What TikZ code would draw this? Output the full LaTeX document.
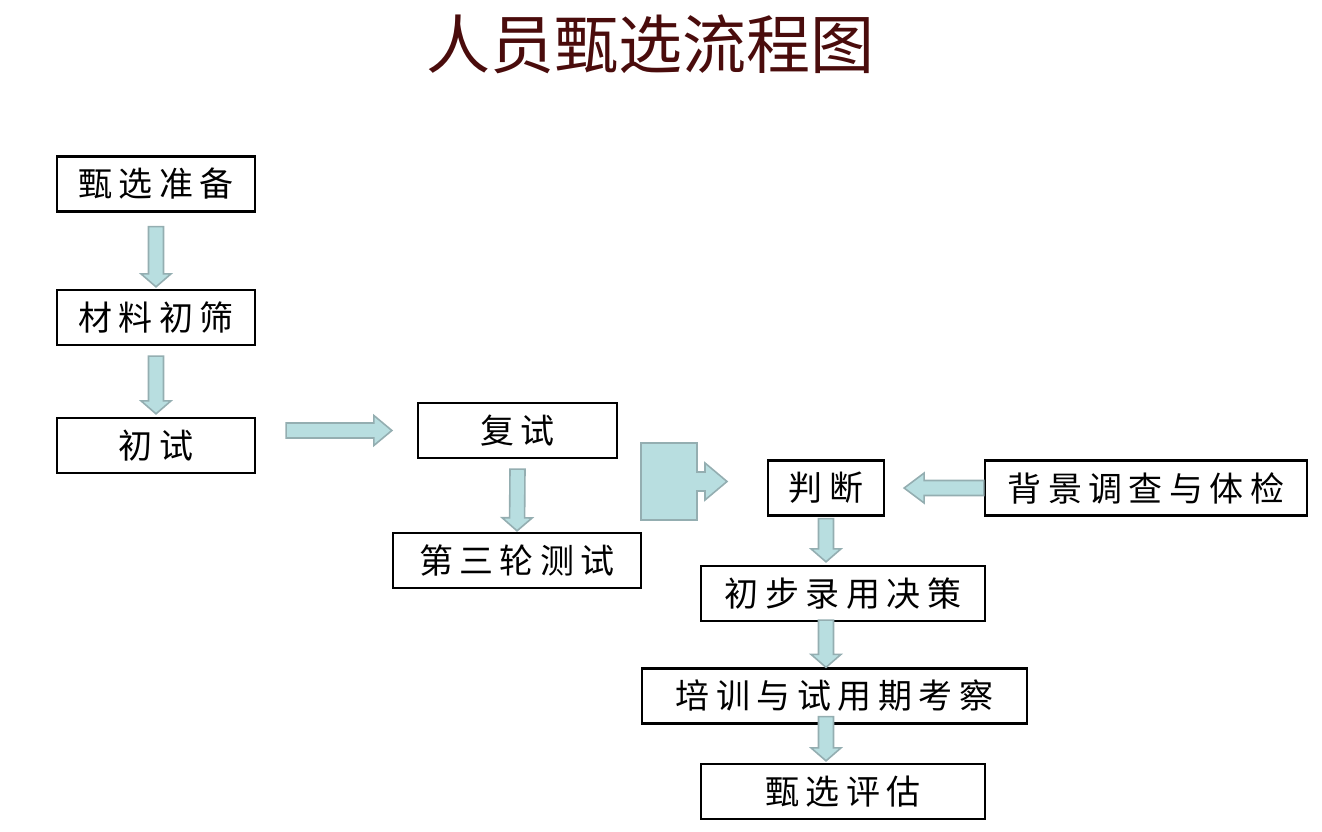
\documentclass[tikz,border=0pt]{standalone}
\usepackage{fontspec}
\usepackage{tikz}
\usetikzlibrary{calc}
\newfontfamily\cjk{Noto Sans CJK SC}
\newfontfamily\cjkbox[LetterSpace=19]{Noto Sans CJK SC}
\definecolor{arrfill}{HTML}{B8DEE0}
\definecolor{arrline}{HTML}{94AEB1}
\definecolor{titlered}{HTML}{4A0C0C}

\begin{document}
\begin{tikzpicture}[
  x=1pt, y=-1pt,
  box/.style={
    draw,
    line width=2.3pt,
    minimum height=55pt,
    inner sep=0pt,
    font=\cjkbox\fontsize{34}{38}\selectfont,
  },
  blockarr/.code={%
    \pgfmathsetmacro\shaftd{veclen(#1,7.5)}%
    \pgfmathsetmacro\shafta{atan2(7.5,#1)}%
    \pgfmathsetmacro\headd{veclen(#1,15)}%
    \pgfmathsetmacro\heada{atan2(15,#1)}%
    \tikzset{blockpath}%
  },
  blockpath/.style={
    fill=arrfill,
    draw=arrline,
    line width=1.6pt,
    to path={($(\tikztostart)!7.5pt!90:(\tikztotarget)$)
      -- ($(\tikztotarget)!\shaftd pt!-\shafta:(\tikztostart)$)
      -- ($(\tikztotarget)!\headd pt!-\heada:(\tikztostart)$)
      -- (\tikztotarget)
      -- ($(\tikztotarget)!\headd pt!\heada:(\tikztostart)$)
      -- ($(\tikztotarget)!\shaftd pt!\shafta:(\tikztostart)$)
      -- ($(\tikztostart)!7.5pt!-90:(\tikztotarget)$) -- cycle},
  },
  callout/.style={
    fill=arrfill,
    draw=arrline,
    line width=1.6pt,
  },
]
\useasboundingbox (0,0) rectangle (1322,832);

% ============================================================
% TITLE
% ============================================================
\node[font=\cjk\fontsize{64}{70}\selectfont, text=titlered]
  (title) at (650,44) {人员甄选流程图};

% ============================================================
% LEFT COLUMN
% ============================================================
\node[box, minimum width=198pt] (prep)   at (156,184)   {甄选准备};
\node[box, minimum width=198pt] (screen) at (156,317.5) {材料初筛};
\node[box, minimum width=198pt] (first)  at (156,445.5) {初试};

% ============================================================
% MIDDLE COLUMN
% ============================================================
\node[box, minimum width=199pt] (second) at (517.5,430.5) {复试};
\node[box, minimum width=248pt] (third)  at (517,560.5)   {第三轮测试};

% ============================================================
% RIGHT COLUMN
% ============================================================
\node[box, minimum width=116pt] (judge) at (826,488)    {判断};
\node[box, minimum width=322pt] (check) at (1146,488)   {背景调查与体检};
\node[box, minimum width=284pt] (offer) at (843,593.5)  {初步录用决策};
\node[box, minimum width=385pt] (trial) at (834.5,696)  {培训与试用期考察};
\node[box, minimum width=284pt] (eval)  at (843,791.5)  {甄选评估};

% ============================================================
% BLOCK ARROWS
% ============================================================
\draw[blockarr=13] ([yshift=-14pt]prep.south) to ([yshift=2pt]screen.north);
\draw[blockarr=13] ([yshift=-10pt]screen.south) to ([yshift=3pt]first.north);
\draw[blockarr=18] ($(first.east |- second.west)+(30,0)$) to ([xshift=-25pt]second.west);
\draw[blockarr=13] ([yshift=-10pt]second.south) to ([yshift=1pt]third.north);
\draw[blockarr=20] (check.west) to ([xshift=19pt]judge.east);
\draw[blockarr=13] ([yshift=-2pt]judge.south) to ([yshift=3pt]judge.south |- offer.north);
\draw[blockarr=13] ([yshift=2pt]judge.south |- offer.south) to (judge.south |- trial.north);
\draw[blockarr=13] ([yshift=8pt]judge.south |- trial.south) to ([yshift=2pt]judge.south |- eval.north);

% callout arrow towards judge
\draw[callout] (641,443) -- (697,443) -- (697,472) -- (705,472) -- (705,463)
  -- (727,481.5) -- (705,500) -- (705,491) -- (697,491) -- (697,520)
  -- (641,520) -- cycle;

\end{tikzpicture}
\end{document}
